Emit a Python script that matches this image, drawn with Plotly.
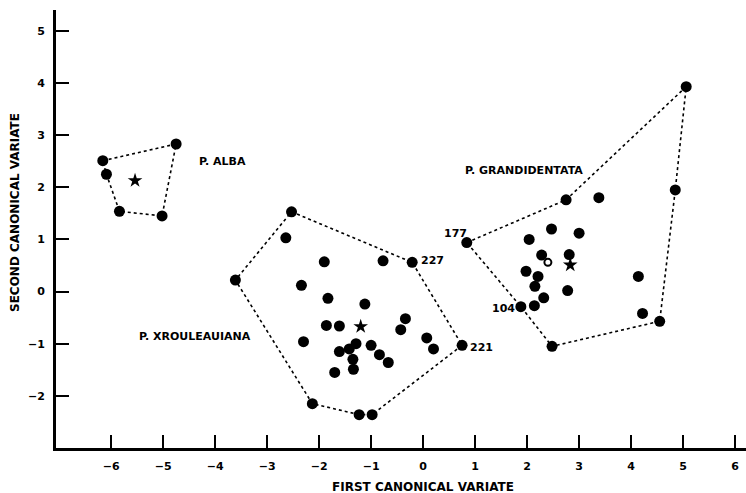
import plotly.graph_objects as go

# ---- Data ----
alba_x = [-6.16, -6.09, -5.84, -5.02, -4.75]
alba_y = [2.51, 2.25, 1.54, 1.45, 2.83]
alba_centroid = (-5.54, 2.13)
alba_hull = [0, 4, 3, 2, 1, 0]

xrou_x = [-2.53, -2.64, -3.61, -1.90, -0.77, -0.21, -2.34, -1.83, -1.12, -0.34,
          -0.43, -1.86, -1.61, -2.30, 0.07, 0.20, 0.75, -1.29, -1.42, -1.61,
          -1.00, -0.84, -0.67, -1.35, -1.34, -1.70, -2.13, -1.23, -0.98]
xrou_y = [1.53, 1.03, 0.22, 0.57, 0.59, 0.56, 0.12, -0.13, -0.24, -0.52,
          -0.73, -0.65, -0.66, -0.96, -0.89, -1.10, -1.03, -1.00, -1.10, -1.15,
          -1.03, -1.21, -1.36, -1.30, -1.49, -1.55, -2.15, -2.36, -2.36]
xrou_centroid = (-1.20, -0.67)
xrou_hull = [0, 5, 16, 28, 27, 26, 2, 0]

gran_x = [5.06, 4.85, 2.75, 3.38, 0.84, 2.47, 3.00, 2.04, 2.28, 2.81,
          1.98, 2.21, 2.15, 2.78, 4.14, 2.32, 2.14, 1.88, 4.22, 4.55, 2.48]
gran_y = [3.93, 1.95, 1.76, 1.80, 0.94, 1.20, 1.12, 1.00, 0.70, 0.71,
          0.39, 0.29, 0.10, 0.02, 0.29, -0.12, -0.27, -0.29, -0.42, -0.57, -1.05]
gran_centroid = (2.83, 0.51)
gran_hull = [4, 2, 0, 1, 19, 20, 17, 4]
gran_open_x = [2.40]
gran_open_y = [0.56]

group_labels = ["P. ALBA", "P. XROULEAUIANA", "P. GRANDIDENTATA"]
group_label_pos = [(-4.34, 2.49, "left"), (-3.27, -0.86, "right"), (0.77, 2.32, "left")]

id_labels = ["227", "221", "177", "104"]
id_label_pos = [(-0.08, 0.59, "left"), (0.87, -1.07, "left"), (0.89, 1.11, "right"), (1.80, -0.33, "right")]

x_ticks = [-6, -5, -4, -3, -2, -1, 0, 1, 2, 3, 4, 5, 6]
y_ticks = [-2, -1, 0, 1, 2, 3, 4, 5]
x_title = "FIRST CANONICAL VARIATE"
y_title = "SECOND CANONICAL VARIATE"

FONT = "DejaVu Sans"
fig = go.Figure()

groups = [(alba_x, alba_y, alba_hull, alba_centroid),
          (xrou_x, xrou_y, xrou_hull, xrou_centroid),
          (gran_x, gran_y, gran_hull, gran_centroid)]

for gx, gy, hull, cen in groups:
    fig.add_trace(go.Scatter(
        x=[gx[i] for i in hull], y=[gy[i] for i in hull], mode="lines",
        line=dict(color="black", width=1.6, dash="dot"), hoverinfo="skip",
        showlegend=False))
    fig.add_trace(go.Scatter(
        x=gx, y=gy, mode="markers",
        marker=dict(symbol="circle", size=11, color="black"), showlegend=False))
    fig.add_trace(go.Scatter(
        x=[cen[0]], y=[cen[1]], mode="markers",
        marker=dict(symbol="star", size=11, color="black"), showlegend=False))

fig.add_trace(go.Scatter(
    x=gran_open_x, y=gran_open_y, mode="markers",
    marker=dict(symbol="circle-open", size=7, color="black", line=dict(width=2)),
    showlegend=False))

for text, (lx, ly, anchor) in zip(group_labels, group_label_pos):
    fig.add_annotation(x=lx, y=ly, text=text, showarrow=False, xanchor=anchor,
                       yanchor="middle",
                       font=dict(family=FONT, size=11, color="black", weight="bold"))

for text, (lx, ly, anchor) in zip(id_labels, id_label_pos):
    fig.add_annotation(x=lx, y=ly, text=text, showarrow=False, xanchor=anchor,
                       yanchor="middle",
                       font=dict(family=FONT, size=11, color="black", weight="bold"))

axis_common = dict(showline=True, linewidth=3, linecolor="black", ticks="inside",
                   ticklen=13, tickwidth=2, tickcolor="black", showgrid=False,
                   zeroline=False, mirror=False,
                   tickfont=dict(family=FONT, size=11, color="black", weight="bold"))

fig.update_xaxes(range=[-7.06, 6.21], tickvals=x_ticks, ticklabelstandoff=6,
                 **axis_common)
fig.update_yaxes(range=[-3.0, 5.4], tickvals=y_ticks, ticklabelstandoff=6,
                 **axis_common)

# Axis titles positioned as in the reference (pixel-based, converted to paper coords)
W, H = 746, 493
ml, mr, mt, mb = 56, 0, 10, 45
pw, ph = W - ml - mr, H - mt - mb
fig.add_annotation(x=(423 - ml) / pw, y=(H - mb - 487) / ph, xref="paper", yref="paper",
                   text=x_title, showarrow=False, xanchor="center", yanchor="middle",
                   font=dict(family=FONT, size=12, color="black", weight="bold"))
fig.add_annotation(x=(15 - ml) / pw, y=(H - mb - 213) / ph, xref="paper", yref="paper",
                   text=y_title, showarrow=False, xanchor="center", yanchor="middle",
                   textangle=-90,
                   font=dict(family=FONT, size=12, color="black", weight="bold"))

fig.update_layout(width=W, height=H, margin=dict(l=ml, r=mr, t=mt, b=mb),
                  plot_bgcolor="white", paper_bgcolor="white", showlegend=False)

fig.write_html("out.html", config={"displayModeBar": False},
               post_script="document.body.style.margin='0';document.body.style.padding='0';")
